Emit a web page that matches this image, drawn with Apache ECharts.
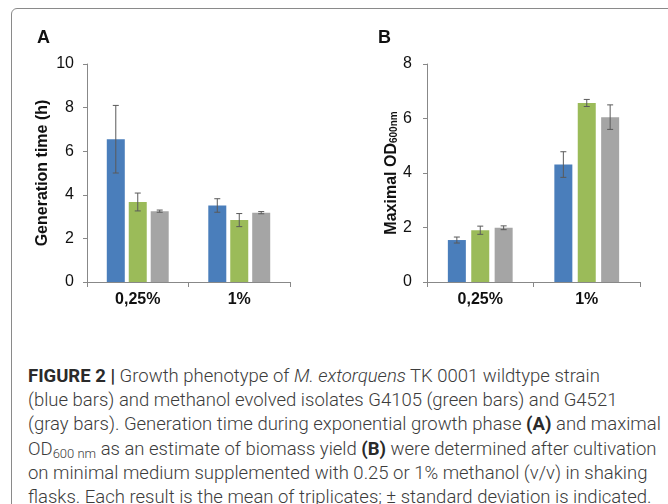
<!DOCTYPE html>
<html>
<head>
<meta charset="utf-8">
<script src="https://cdn.jsdelivr.net/npm/echarts@6/dist/echarts.min.js"></script>
<style>
  html, body { margin: 0; padding: 0; background: #fff; }
  body { width: 668px; height: 504px; overflow: hidden; position: relative; }
  .frame {
    position: absolute; left: 11px; top: 8px; width: 700px; height: 540px;
    border: 1px solid #8a8a8a; border-radius: 6px; box-sizing: border-box;
  }
  #main { position: absolute; left: 0; top: 0; width: 668px; height: 330px; }
  .caption {
    position: absolute; left: 28px; top: 364px;
    font-family: Roboto, "Liberation Sans", sans-serif; font-weight: 300;
    font-size: 18.5px; line-height: 24.2px; color: #3c3c3c; white-space: nowrap;
  }
  .caption b { font-weight: 700; color: #2a2a2a; }
  .caption sub { font-size: 13px; vertical-align: -3px; line-height: 0; }
</style>
</head>
<body>
<div class="frame"></div>
<div id="main"></div>
<div class="caption">
  <b>FIGURE 2 |</b> Growth phenotype of <i>M. extorquens</i> TK 0001 wildtype strain<br>
  (blue bars) and methanol evolved isolates G4105 (green bars) and G4521<br>
  (gray bars). Generation time during exponential growth phase <b>(A)</b> and maximal<br>
  OD<sub>600 nm</sub> as an estimate of biomass yield <b>(B)</b> were determined after cultivation<br>
  on minimal medium supplemented with 0.25 or 1% methanol (v/v) in shaking<br>
  flasks. Each result is the mean of triplicates; &plusmn; standard deviation is indicated.
</div>
<script>
  // methanol concentrations
  const categories = ['0,25%', '1%']
  const strains = ['TK 0001', 'G4105', 'G4521']

  // A: generation time (h), mean and SD
  const genTimeWT = [6.55, 3.51]
  const genTimeG4105 = [3.67, 2.84]
  const genTimeG4521 = [3.25, 3.18]
  const genTimeWTSd = [1.55, 0.31]
  const genTimeG4105Sd = [0.41, 0.3]
  const genTimeG4521Sd = [0.05, 0.05]

  // B: maximal OD600, mean and SD
  const odWT = [1.54, 4.31]
  const odG4105 = [1.9, 6.57]
  const odG4521 = [1.99, 6.05]
  const odWTSd = [0.11, 0.47]
  const odG4105Sd = [0.15, 0.13]
  const odG4521Sd = [0.07, 0.45]

  const colors = ['#4a7ebb', '#9bbb59', '#a5a5a5']
  const barW = 18

  const chart = echarts.init(document.getElementById('main'))

  function barSeries(idx, means, gap) {
    return means.map((m, i) => ({
      name: strains[i],
      type: 'bar',
      xAxisIndex: idx,
      yAxisIndex: idx,
      barWidth: barW,
      barGap: gap,
      itemStyle: { color: colors[i] },
      data: m
    }))
  }

  // error bars drawn next to each bar
  function errSeries(idx, means, sds, gapFrac) {
    return means.map((m, s) => ({
      type: 'custom',
      xAxisIndex: idx,
      yAxisIndex: idx,
      z: 5,
      data: m.map((v, i) => [i, v, sds[s][i]]),
      renderItem: function (params, api) {
        const c = api.value(0)
        const mean = api.value(1)
        const sd = api.value(2)
        const off = (s - 1) * barW * (1 + gapFrac)
        const hi = api.coord([c, mean + sd])
        const lo = api.coord([c, mean - sd])
        const x = hi[0] + off
        const st = { stroke: '#5a5a5a', lineWidth: 1 }
        return {
          type: 'group',
          children: [
            { type: 'line', shape: { x1: x, y1: hi[1], x2: x, y2: lo[1] }, style: st },
            { type: 'line', shape: { x1: x - 3, y1: hi[1], x2: x + 3, y2: hi[1] }, style: st },
            { type: 'line', shape: { x1: x - 3, y1: lo[1], x2: x + 3, y2: lo[1] }, style: st }
          ]
        }
      }
    }))
  }

  const axisCommon = {
    axisLine: { show: true, lineStyle: { color: '#888', width: 1 } },
    axisTick: { show: true, length: 4, lineStyle: { color: '#888' } },
    splitLine: { show: false }
  }

  chart.setOption({
    animation: false,
    textStyle: { fontFamily: 'Liberation Sans, Arial, sans-serif' },
    title: [
      { text: 'A', left: 32, top: 24, textStyle: { fontSize: 18, fontWeight: 'bold', color: '#111' } },
      { text: 'B', left: 373, top: 24, textStyle: { fontSize: 18, fontWeight: 'bold', color: '#111' } }
    ],
    grid: [
      { left: 87, top: 64, width: 203, height: 218 },
      { left: 427, top: 64, width: 213, height: 218 }
    ],
    xAxis: [0, 1].map(i => ({
      ...axisCommon,
      type: 'category',
      gridIndex: i,
      data: categories,
      axisTick: { show: true, length: 5, lineStyle: { color: '#888' } },
      axisLabel: { fontSize: 16, fontWeight: 'bold', color: '#111', margin: 10 }
    })),
    yAxis: [
      {
        ...axisCommon,
        type: 'value',
        gridIndex: 0,
        min: 0,
        max: 10,
        interval: 2,
        axisLabel: { fontSize: 16, color: '#111', margin: 13 },
        name: 'Generation time (h)',
        nameLocation: 'middle',
        nameGap: 36,
        nameTextStyle: { fontSize: 16, fontWeight: 'bold', color: '#111' }
      },
      {
        ...axisCommon,
        type: 'value',
        gridIndex: 1,
        min: 0,
        max: 8,
        interval: 2,
        axisLabel: { fontSize: 16, color: '#111', margin: 15 },
        name: 'Maximal OD{sub|600nm}',
        nameLocation: 'middle',
        nameGap: 27,
        nameTextStyle: {
          fontSize: 16,
          fontWeight: 'bold',
          color: '#111',
          rich: { sub: { fontSize: 10, fontWeight: 'bold', color: '#111', verticalAlign: 'bottom' } }
        }
      }
    ],
    series: [
      ...barSeries(0, [genTimeWT, genTimeG4105, genTimeG4521], '22%'),
      ...barSeries(1, [odWT, odG4105, odG4521], '30%'),
      ...errSeries(0, [genTimeWT, genTimeG4105, genTimeG4521], [genTimeWTSd, genTimeG4105Sd, genTimeG4521Sd], 0.22),
      ...errSeries(1, [odWT, odG4105, odG4521], [odWTSd, odG4105Sd, odG4521Sd], 0.3)
    ]
  })
</script>
</body>
</html>
